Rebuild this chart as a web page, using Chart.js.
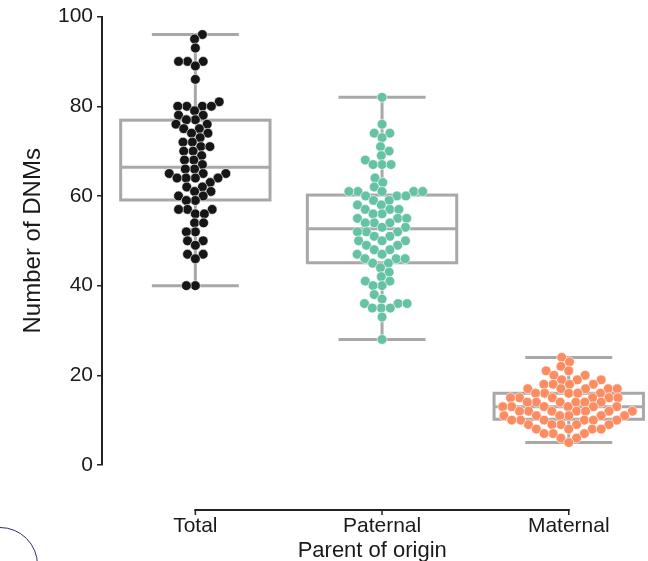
<!DOCTYPE html>
<html><head><meta charset="utf-8">
<script src="https://cdn.jsdelivr.net/npm/chart.js@4.4.1/dist/chart.umd.min.js"></script>
<style>
html,body{margin:0;padding:0;background:#fff;}
#wrap{position:relative;width:648px;height:561px;overflow:hidden;background:#fff;}
#deco{position:absolute;left:-38px;top:527px;width:76px;height:76px;box-sizing:border-box;border:1.5px solid #2e2a78;border-radius:50%;}
canvas{display:block;}
</style></head><body>
<div id="wrap"><canvas id="c" width="648" height="561"></canvas><div id="deco"></div></div>
<script>
const categories = ['Total', 'Paternal', 'Maternal'];

const totalValues = [96, 95, 93, 90, 90, 90, 89, 86,
  81, 80, 80, 80, 80,
  79, 78, 78, 77, 77, 76, 76, 75, 75, 74, 74, 73, 72, 72, 71, 71, 70, 70, 69, 68, 68, 67,
  66, 66, 65, 65, 65, 64, 64, 64, 64, 63, 62, 62, 61, 61, 60, 60, 59, 59,
  57, 57, 57, 56, 56, 54, 54, 52, 52, 50, 50, 49, 47, 47, 46, 40, 40];

const paternalValues = [82, 76, 74, 74, 73, 71, 70, 69, 68, 67, 67, 67, 64, 63, 62,
  61, 61, 61, 61, 61, 60, 60, 60, 59, 59, 58, 58, 57, 57, 57, 56, 56, 55, 55, 55,
  54, 54, 54, 53, 53, 52, 52, 52, 51, 51, 50, 50, 50, 49, 49, 48, 48, 47, 47,
  46, 46, 46, 45, 45, 44, 43, 42, 41, 41, 40, 40, 38, 37, 36, 36, 36, 35, 35, 35, 33, 28];

const maternalValues = [24, 23, 22, 21, 21, 20, 20,
  19, 19, 19, 18, 18, 18, 18,
  17, 17, 17, 17, 17, 16, 16, 16, 16, 16,
  15, 15, 15, 15, 15, 15, 14, 14, 14, 14, 14, 14,
  13, 13, 13, 13, 13, 13, 12, 12, 12, 12, 12, 12, 12,
  11, 11, 11, 11, 11, 11, 10, 10, 10, 10, 10, 10,
  9, 9, 9, 9, 9, 8, 8, 8, 8, 7, 7, 7, 6, 6, 5];

const boxQ1 = [59.1, 45.1, 10.2];
const boxMedian = [66.4, 52.7, 13.0];
const boxQ3 = [76.9, 60.2, 16.0];
const whiskerLow = [40, 28, 5];
const whiskerHigh = [96, 82, 24];
const yTicks = [0, 20, 40, 60, 80, 100];

const pointColors = ['#161616', '#66c2a5', '#fc8d62'];
const boxColor = '#a8a8a8';
const axisColor = '#222222';
const textColor = '#1a1a1a';

Chart.defaults.font.family = "'Liberation Sans', Arial, Helvetica, sans-serif";
Chart.defaults.color = textColor;

const groups = [totalValues, paternalValues, maternalValues];

const boxPlugin = {
  id: 'boxes',
  beforeDatasetsDraw(chart) {
    const { ctx, scales: { x, y } } = chart;
    ctx.save();
    ctx.strokeStyle = boxColor;
    ctx.lineWidth = 3;
    ctx.lineCap = 'butt';
    const seg = (x1, y1, x2, y2) => { ctx.beginPath(); ctx.moveTo(x1, y1); ctx.lineTo(x2, y2); ctx.stroke(); };
    categories.forEach((c, i) => {
      const xc = x.getPixelForValue(i);
      const xl = x.getPixelForValue(i - 0.4), xr = x.getPixelForValue(i + 0.4);
      const cl = x.getPixelForValue(i - 0.233), cr = x.getPixelForValue(i + 0.233);
      const yq1 = y.getPixelForValue(boxQ1[i]), yq3 = y.getPixelForValue(boxQ3[i]);
      const ymed = y.getPixelForValue(boxMedian[i]);
      const ylo = y.getPixelForValue(whiskerLow[i]), yhi = y.getPixelForValue(whiskerHigh[i]);
      seg(xc, yq3, xc, yhi);
      seg(xc, yq1, xc, ylo);
      seg(cl, yhi, cr, yhi);
      seg(cl, ylo, cr, ylo);
      ctx.strokeRect(xl, yq3, xr - xl, yq1 - yq3);
      seg(xl, ymed, xr, ymed);
    });
    ctx.restore();
  },
  afterDraw(chart) {
    const { ctx, scales: { x } } = chart;
    const y0 = chart.chartArea.bottom + 45;
    const x0 = x.getPixelForValue(0), x2 = x.getPixelForValue(categories.length - 1);
    ctx.save();
    ctx.strokeStyle = axisColor;
    ctx.lineWidth = 2;
    ctx.beginPath(); ctx.moveTo(x0 - 1, y0); ctx.lineTo(x2 + 1, y0); ctx.stroke();
    ctx.lineWidth = 1.5;
    categories.forEach((c, i) => {
      const px = x.getPixelForValue(i);
      ctx.beginPath(); ctx.moveTo(px, y0); ctx.lineTo(px, y0 + 5); ctx.stroke();
    });
    ctx.restore();
  }
};

const chart = new Chart(document.getElementById('c'), {
  type: 'scatter',
  data: {
    datasets: groups.map((vals, i) => ({
      label: categories[i],
      data: vals.map(v => ({ x: i, y: v })),
      backgroundColor: pointColors[i],
      borderColor: '#ffffff',
      borderWidth: 0.6,
      pointRadius: 4.9,
      pointHoverRadius: 4.9
    }))
  },
  options: {
    responsive: false,
    animation: false,
    devicePixelRatio: 1,
    events: [],
    layout: { padding: { top: 15, right: 0, left: 0, bottom: 0 } },
    plugins: { legend: { display: false }, tooltip: { enabled: false } },
    scales: {
      x: {
        type: 'linear',
        min: -0.5,
        max: 2.395,
        afterBuildTicks: s => { s.ticks = categories.map((c, i) => ({ value: i })); },
        ticks: {
          callback: (v, idx) => categories[idx],
          font: { size: 21 },
          color: textColor,
          padding: 41,
          autoSkip: false,
          maxRotation: 0
        },
        grid: { display: false },
        border: { display: false },
        title: { display: true, text: 'Parent of origin', font: { size: 22 }, color: textColor, padding: { top: 0, bottom: -3 } },
        afterFit: s => { s.height = 96; s.paddingLeft = 0; s.paddingRight = 0; }
      },
      y: {
        min: 0,
        max: 100,
        afterBuildTicks: s => { s.ticks = yTicks.map(v => ({ value: v })); },
        ticks: { font: { size: 21 }, color: textColor, padding: 4 },
        grid: { drawOnChartArea: false, drawTicks: true, tickLength: 5, color: axisColor, lineWidth: 1.5 },
        border: { display: true, color: axisColor, width: 2 },
        title: { display: true, text: 'Number of DNMs', font: { size: 24 }, color: textColor, padding: { top: 19, bottom: 0 } },
        afterFit: s => { s.width = 102; }
      }
    }
  },
  plugins: [boxPlugin]
});

function swarm(ys, d) {
  const order = ys.map((v, i) => i).sort((a, b) => ys[b] - ys[a]);
  const placed = [];
  const off = new Array(ys.length).fill(0);
  for (const i of order) {
    const py = ys[i];
    const neigh = placed.filter(p => Math.abs(p.y - py) < d);
    const cands = [0];
    neigh.forEach(p => {
      const dx = Math.sqrt(d * d - (p.y - py) * (p.y - py));
      cands.push(p.x - dx, p.x + dx);
    });
    const idx = cands.map((c, k) => k).sort((a, b) => (Math.abs(cands[a]) - Math.abs(cands[b])) || (a - b));
    let chosen = 0;
    for (const k of idx) {
      const c = cands[k];
      if (neigh.every(p => (p.x - c) * (p.x - c) + (p.y - py) * (p.y - py) >= d * d - 1e-6)) { chosen = c; break; }
    }
    placed.push({ x: chosen, y: py });
    off[i] = chosen;
  }
  return off;
}

(function applySwarm() {
  const x = chart.scales.x, y = chart.scales.y;
  const unit = x.getPixelForValue(1) - x.getPixelForValue(0);
  groups.forEach((vals, i) => {
    const ys = vals.map(v => y.getPixelForValue(v));
    const off = swarm(ys, 9.0);
    chart.data.datasets[i].data = vals.map((v, k) => ({ x: i + off[k] / unit, y: v }));
  });
  chart.update('none');
})();
</script>
</body></html>
